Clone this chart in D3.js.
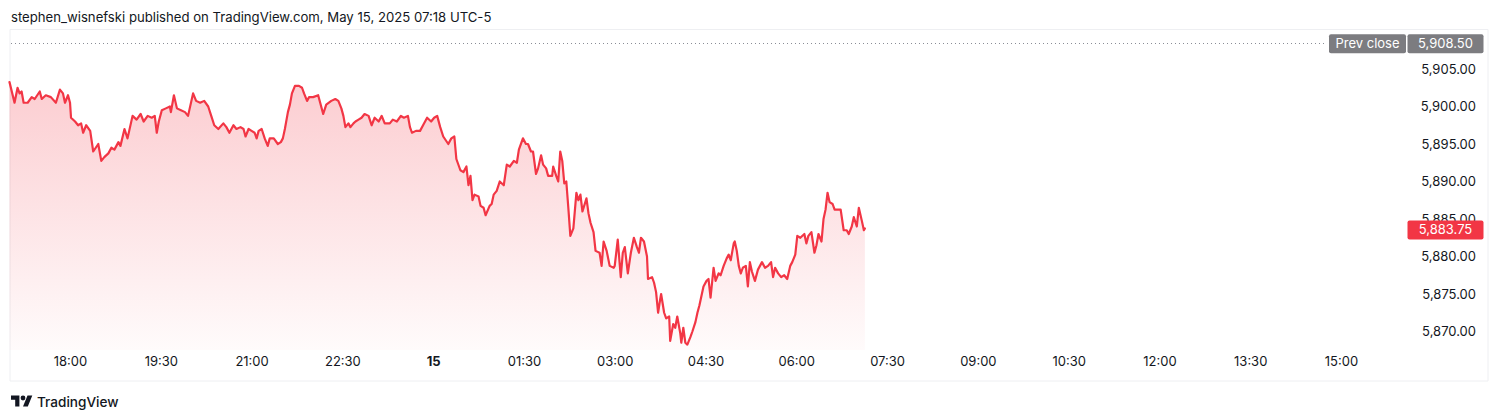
<!DOCTYPE html>
<html>
<head>
<meta charset="utf-8">
<script src="https://cdn.jsdelivr.net/npm/d3@7"></script>
<style>
  html, body { margin: 0; padding: 0; background: #ffffff; }
  svg { display: block; font-family: Inter, "Noto Sans", Roboto, sans-serif; }
</style>
</head>
<body>
<svg id="chart" width="1500" height="420"></svg>
<script>
// ---- Data (ES futures, minutes after 17:00 on May 14, price) ----
const sessionMinutes = [0,5,8,10,12,14,18,22,25,30,32,36,41,46,50,53,55,58,60,61,65,68,71,73,76,80,83,88,91,94,98,101,104,108,110,114,117,122,126,130,133,137,141,144,146,148,151,155,159,160,163,166,170,174,177,182,185,189,193,197,200,203,207,212,215,218,222,225,229,232,234,237,240,243,245,247,250,253,256,258,262,266,269,271,273,276,278,280,283,287,290,292,295,297,301,306,308,311,314,319,323,326,329,331,333,336,338,341,343,346,349,352,356,359,362,366,369,372,377,380,384,388,391,395,397,399,403,407,410,414,418,421,424,427,430,435,438,441,443,447,450,453,455,457,459,461,465,467,470,472,476,478,480,483,486,490,493,496,500,503,505,509,512,514,517,519,522,524,527,529,532,534,538,539,542,544,546,548,550,552,554,556,559,562,564,566,568,572,574,576,579,581,585,587,589,592,595,599,600,603,606,608,610,613,616,619,622,624,626,629,632,633,637,639,641,643,645,646,649,651,654,655,658,660,662,665,666,668,670,672,675,677,680,682,684,688,691,693,695,698,700,703,705,708,711,713,715,718,719,721,723,725,727,730,732,734,736,739,742,746,749,752,755,757,759,762,765,768,771,774,776,779,781,784,788,790,792,795,798,800,802,805,807,809,811,813,816,818,822,824,827,830,832,835,837,840,842,845,847,848];
const prices = [5903.25,5900.5,5902.5,5901.75,5902,5900.5,5900.5,5901.25,5901,5902,5901,5901.5,5901.25,5900.5,5902.25,5901.75,5900.5,5901.5,5900.5,5898.5,5898,5897.5,5897.75,5896.5,5897.5,5896.75,5894,5895,5892.75,5893.25,5893.75,5894.5,5894.25,5895.25,5894.75,5897,5895.75,5898.75,5898.25,5899,5898,5898.75,5898.5,5898.75,5896.5,5898,5899.5,5899.75,5900,5899.25,5901.5,5899.75,5899.5,5899.25,5898.75,5901.75,5900.75,5900.5,5900.75,5900,5898.75,5897.5,5897,5897.75,5897.25,5896.5,5897.5,5897,5897.25,5897,5896,5897,5896.75,5896.5,5895.75,5896.75,5897,5895.75,5894.75,5895.75,5895.75,5895,5895.25,5895.75,5897,5899.25,5900.25,5901.75,5902.75,5902.75,5902.5,5901.75,5900.75,5901.25,5901.25,5901.5,5900.5,5899,5900.25,5900.75,5901,5900.75,5899.75,5898.75,5897.25,5897.75,5897.25,5897.75,5898,5898.25,5898.5,5899,5898.75,5897.5,5898.5,5898,5898.75,5897.75,5897.75,5898.25,5898,5898.75,5898.5,5898.75,5897.25,5896.5,5896.75,5896.75,5897.5,5898.5,5898,5898.5,5898.75,5897.25,5896,5895,5895.75,5896,5893,5891.5,5891.25,5892,5889.5,5890.75,5887.5,5888.25,5888,5886.75,5886.5,5885.5,5886.75,5887,5888.25,5888.75,5890,5889.5,5892.25,5892,5892.75,5892.5,5894.25,5895.75,5895,5895,5894,5894,5891,5891.75,5893.5,5892.25,5891.75,5890.75,5890.75,5892,5890.75,5890,5894,5892.75,5889.75,5890,5886.5,5882.75,5883.75,5888.5,5887.5,5888.25,5886,5887.75,5885.75,5884.5,5883.25,5880.75,5880.5,5878.75,5882,5880.75,5878.75,5878.5,5878.75,5882.25,5877.25,5880.5,5881.25,5877.75,5880.5,5882.5,5881.25,5880.5,5882.5,5882,5880,5877,5877.25,5876.5,5875.25,5872.5,5874.25,5875,5872.5,5871.75,5872,5868.75,5871,5870.5,5872,5869.75,5868.5,5870.5,5868.5,5868.25,5869.25,5870,5871.25,5872.5,5873.5,5876,5876.75,5877,5874.5,5878.5,5876.75,5877.75,5877.5,5878.75,5879.75,5880.25,5879.5,5881.75,5882,5880.75,5878.75,5877.75,5878.5,5878.75,5876,5879.25,5878,5876.75,5878.25,5879.25,5878.5,5878.75,5879.25,5877.25,5878.5,5877.75,5877.25,5877.5,5877,5878.75,5879.25,5880.25,5882.75,5882.5,5883,5881.75,5882.75,5883.25,5880.5,5881.5,5883,5882,5885,5886.25,5888.5,5887.25,5887,5886.25,5886.25,5886.25,5883.5,5883.5,5883,5884,5885.25,5884,5886.5,5884.75,5883.5,5883.75];

const prevClose = 5908.50;
const lastPrice = 5883.75;

const priceTicks = [5870, 5875, 5880, 5885, 5890, 5895, 5900, 5905];
const timeTickMinutes = [60, 150, 240, 330, 420, 510, 600, 690, 780, 870, 960, 1050, 1140, 1230, 1320];
const timeTickLabels = ["18:00","19:30","21:00","22:30","15","01:30","03:00","04:30","06:00","07:30","09:00","10:30","12:00","13:30","15:00"];
const boldTimeLabels = ["15"];

const headerText = "stephen_wisnefski published on TradingView.com, May 15, 2025 07:18 UTC-5";

// ---- Layout ----
const RED = "#F23645";
const TEXT = "#131722";
const GREY_BOX = "#7c7c80";
const paneLeft = 10, paneRight = 1488, paneTop = 29.5, paneBottom = 381;
const plotBottom = 350;

const svg = d3.select("#chart");

const x = d3.scaleLinear().domain([0, 1380]).range([9.5, 9.5 + 1380 * 1.0087]);
const y = d3.scaleLinear().domain([5870, 5905]).range([331.5, 69]);

const data = sessionMinutes.map((m, i) => ({ m, p: prices[i] }));

// header
svg.append("text")
  .attr("x", 11).attr("y", 21.5)
  .attr("font-size", 13.15).attr("fill", TEXT)
  .text(headerText);

// pane border
svg.append("path")
  .attr("d", `M${paneLeft},${paneTop}H${paneRight}V${paneBottom}H${paneLeft}Z`)
  .attr("fill", "none").attr("stroke", "#eeeff2").attr("stroke-width", 1);

// gradient
const defs = svg.append("defs");
const grad = defs.append("linearGradient")
  .attr("id", "areaGrad").attr("x1", 0).attr("x2", 0)
  .attr("gradientUnits", "userSpaceOnUse")
  .attr("y1", y(d3.max(prices))).attr("y2", plotBottom);
grad.append("stop").attr("offset", "0%").attr("stop-color", RED).attr("stop-opacity", 0.25);
grad.append("stop").attr("offset", "100%").attr("stop-color", RED).attr("stop-opacity", 0.02);

const area = d3.area()
  .x(d => x(d.m)).y0(plotBottom).y1(d => y(d.p))
  .curve(d3.curveLinear);
const line = d3.line()
  .x(d => x(d.m)).y(d => y(d.p))
  .curve(d3.curveLinear);

svg.append("path").datum(data)
  .attr("d", area).attr("fill", "url(#areaGrad)");

svg.append("path").datum(data)
  .attr("d", line).attr("fill", "none")
  .attr("stroke", RED).attr("stroke-width", 2.2)
  .attr("stroke-linejoin", "round").attr("stroke-linecap", "round");

// prev close dotted line
svg.append("line")
  .attr("x1", 11).attr("x2", 1327)
  .attr("y1", Math.round(y(prevClose)) + 0.5).attr("y2", Math.round(y(prevClose)) + 0.5)
  .attr("stroke", "#8a8d96").attr("stroke-width", 1)
  .attr("stroke-dasharray", "1,3");

// price axis
const yAxis = d3.axisLeft(y)
  .tickValues(priceTicks)
  .tickSize(0).tickPadding(0)
  .tickFormat(d3.format(",.2f"));
const gy = svg.append("g").attr("transform", "translate(1476,0)").call(yAxis);
gy.select(".domain").remove();
gy.selectAll("text")
  .attr("font-size", 13).attr("fill", TEXT)
  .attr("font-family", "Inter, 'Noto Sans', sans-serif");

// time axis
const xAxis = d3.axisBottom(x)
  .tickValues(timeTickMinutes)
  .tickSize(0).tickPadding(0)
  .tickFormat((d, i) => timeTickLabels[i]);
const gx = svg.append("g").attr("transform", "translate(0,357)").call(xAxis);
gx.select(".domain").remove();
gx.selectAll("text")
  .attr("font-size", 13).attr("fill", TEXT)
  .attr("font-family", "Inter, 'Noto Sans', sans-serif")
  .attr("font-weight", (d, i) => boldTimeLabels.includes(timeTickLabels[i]) ? 700 : 400);

// price labels (boxes)
function priceBox(x0, w, yc, fill, label) {
  const g = svg.append("g");
  g.append("rect")
    .attr("x", x0).attr("y", yc - 9.5).attr("width", w).attr("height", 19)
    .attr("rx", 2).attr("fill", fill);
  g.append("text")
    .attr("x", x0 + w / 2).attr("y", yc).attr("dy", "0.35em")
    .attr("text-anchor", "middle").attr("font-size", 13).attr("fill", "#ffffff")
    .text(label);
}
priceBox(1329, 77, y(prevClose) + 1, GREY_BOX, "Prev close");
priceBox(1407.5, 76, y(prevClose) + 1, GREY_BOX, d3.format(",.2f")(prevClose));
priceBox(1407.5, 76, y(lastPrice) + 1.5, RED, d3.format(",.2f")(lastPrice));

// footer logo
const logo = svg.append("g").attr("transform", "translate(11,393.2) scale(0.6)");
logo.append("path").attr("d", "M14 22H7V11H0V4h14v18zM28 22h-8l7.5-18h8L28 22z").attr("fill", TEXT);
logo.append("circle").attr("cx", 20).attr("cy", 8).attr("r", 4).attr("fill", TEXT);
svg.append("text")
  .attr("x", 37).attr("y", 406.5)
  .attr("font-size", 13.6).attr("font-weight", 500).attr("fill", TEXT)
  .text("TradingView");
</script>
</body>
</html>
